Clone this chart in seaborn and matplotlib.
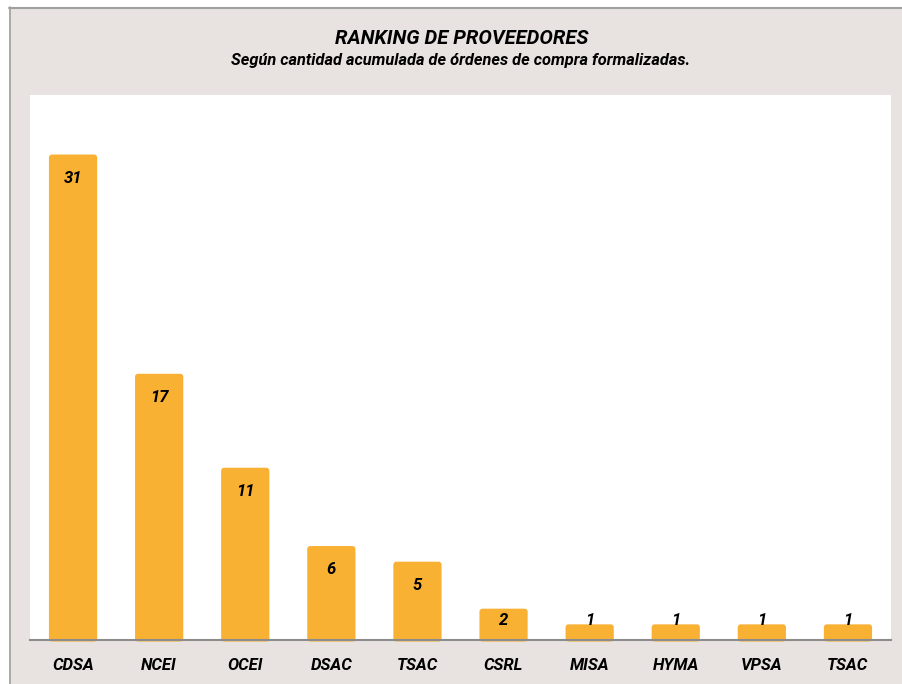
import matplotlib
matplotlib.use("Agg")
import matplotlib.pyplot as plt
import seaborn as sns
import pandas as pd
from matplotlib.patches import Rectangle, FancyBboxPatch
from matplotlib.lines import Line2D

proveedores = ["CDSA", "NCEI", "OCEI", "DSAC", "TSAC", "CSRL", "MISA", "HYMA", "VPSA", "TSAC "]
ordenes = [31, 17, 11, 6, 5, 2, 1, 1, 1, 1]

df = pd.DataFrame({"proveedor": proveedores, "ordenes": ordenes})

sns.set_style("white")
plt.rcParams["font.family"] = ["Roboto", "DejaVu Sans"]

bg = "#E8E3E0"
bar_color = "#F8B133"

fig = plt.figure(figsize=(9.02, 6.84), dpi=100)
fig.patch.set_facecolor("white")

# outer panel, border only on top and left
W, H = 902, 684
fig.add_artist(Rectangle((9 / W, 0), 1, (684 - 7) / H, transform=fig.transFigure,
                         facecolor=bg, edgecolor="none", zorder=-10))
fig.add_artist(Line2D([9 / W, 1], [1 - 7.5 / H] * 2, transform=fig.transFigure,
                      color="#A0A0A0", lw=1.5, zorder=-5))
fig.add_artist(Line2D([9.5 / W] * 2, [0, 1 - 7 / H], transform=fig.transFigure,
                      color="#A0A0A0", lw=1.2, zorder=-5))

ax = fig.add_axes([30 / W, (H - 640) / H, 861 / W, (640 - 95) / H])
ax.set_zorder(1)
ax.set_facecolor("white")

sns.barplot(data=df, x="proveedor", y="ordenes", color=bar_color,
            saturation=1, width=0.56, ax=ax)

ax.set_ylim(0, 34.8)
ax.set_xlim(-0.5, 9.5)

# rounded corners on the bars
for p in list(ax.patches):
    fb = FancyBboxPatch((p.get_x(), p.get_y() - 0.1), p.get_width(), p.get_height() + 0.1,
                        boxstyle="round,pad=0,rounding_size=0.035",
                        mutation_aspect=5.5, facecolor=bar_color,
                        edgecolor="none", zorder=2, clip_on=False)
    p.set_visible(False)
    ax.add_patch(fb)

ax.set_yticks([])
ax.set_xlabel("")
ax.set_ylabel("")
for s in ["top", "right", "left"]:
    ax.spines[s].set_visible(False)
ax.spines["bottom"].set_color("#8C8C8C")
ax.spines["bottom"].set_linewidth(1.5)
ax.spines["bottom"].set_zorder(3)

ax.set_xticks(range(len(proveedores)))
ax.set_xticklabels([p.strip() for p in proveedores], fontsize=12,
                   fontweight="bold", fontstyle="italic", color="black")
ax.tick_params(axis="x", length=0, pad=13)
# category separator ticks
ax.set_xticks([i - 0.5 for i in range(len(proveedores) + 1)], minor=True)
ax.tick_params(axis="x", which="minor", length=5, color="#8C8C8C", width=1, direction="out")

for i, v in enumerate(ordenes):
    y = max(v - 1.5, 1.25)
    ax.text(i, y, str(v), ha="center", va="center", fontsize=12,
            fontweight="bold", fontstyle="italic", color="black", zorder=4)

fig.text(462 / W, 1 - 38 / H, "RANKING DE PROVEEDORES", ha="center", va="center",
         fontsize=14.5, fontweight="bold", fontstyle="italic", color="black")
fig.text(461 / W, 1 - 60 / H, "Según cantidad acumulada de órdenes de compra formalizadas.",
         ha="center", va="center", fontsize=11.8, fontweight="bold", fontstyle="italic",
         color="black")

fig.savefig("out.png", dpi=100)
